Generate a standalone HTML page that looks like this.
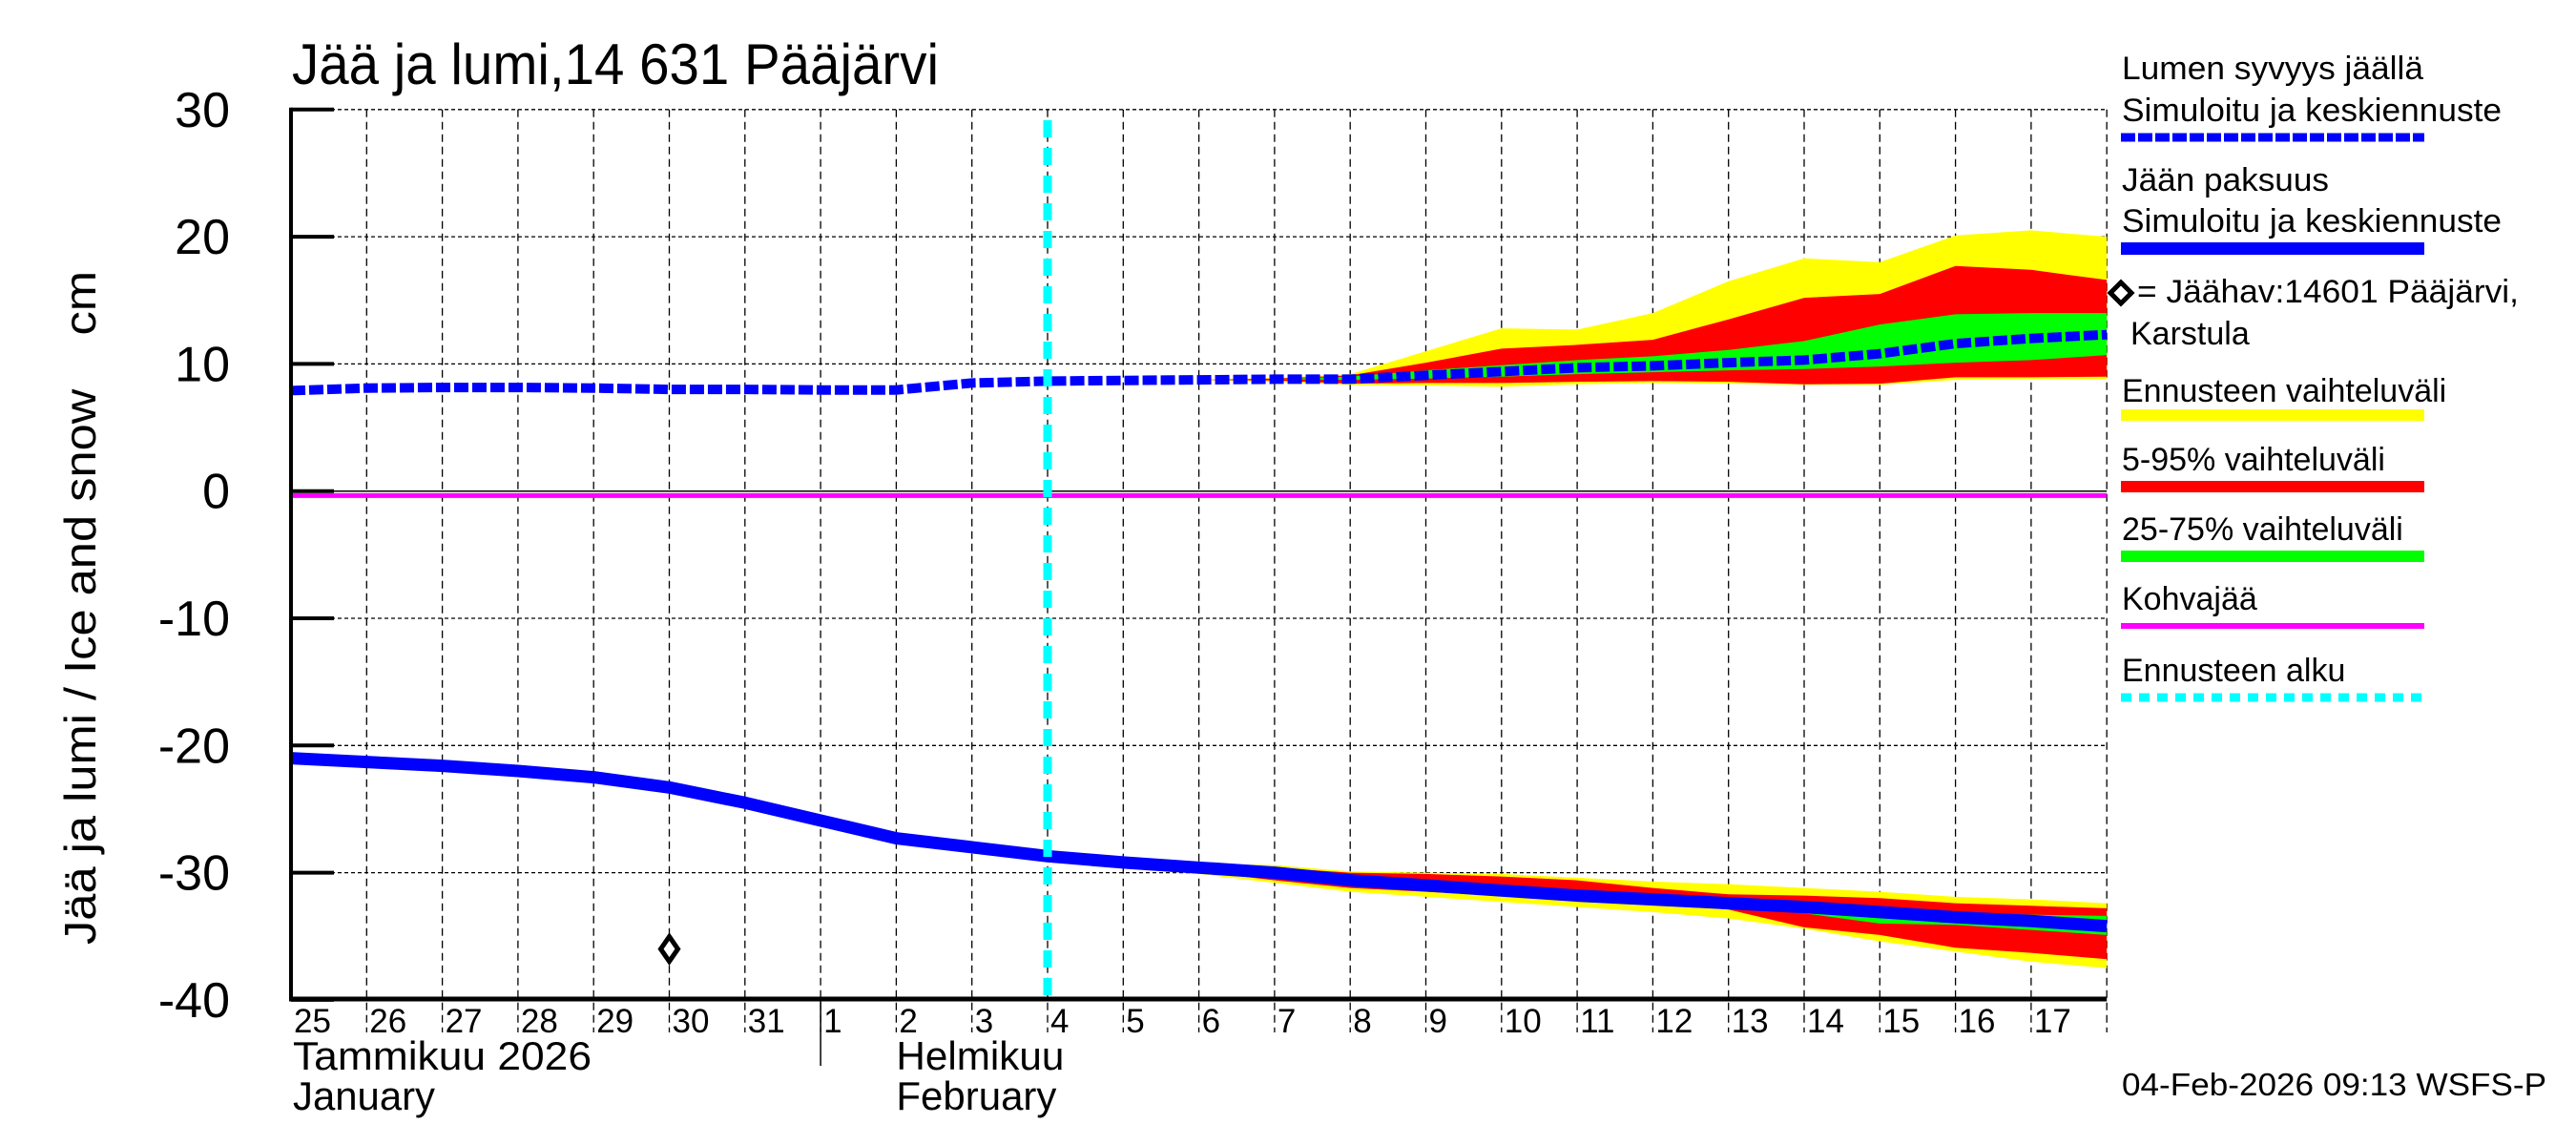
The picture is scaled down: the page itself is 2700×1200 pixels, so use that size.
<!DOCTYPE html>
<html><head><meta charset="utf-8"><style>
html,body{margin:0;padding:0;background:#fff;}
svg{display:block;font-family:"Liberation Sans",sans-serif;}
</style></head><body>
<svg id="chart" width="2700" height="1200" viewBox="0 0 2700 1200" xmlns="http://www.w3.org/2000/svg">
<rect width="2700" height="1200" fill="#fff"/>
<g id="grid"></g>
<g id="bands"></g>
<g id="lines"></g>
<g id="axes"></g>
<text x="306" y="88" font-size="60" textLength="678" lengthAdjust="spacingAndGlyphs">Jää ja lumi,14 631 Pääjärvi</text>
<text transform="translate(100,637) rotate(-90)" text-anchor="middle" font-size="46" textLength="706" lengthAdjust="spacingAndGlyphs">Jää ja lumi / Ice and snow&#160;&#160;&#160;&#160;cm</text>
<g id="legend" font-size="34">
  <text x="2224" y="83" textLength="316" lengthAdjust="spacingAndGlyphs">Lumen syvyys jäällä</text>
  <text x="2224" y="127" textLength="398" lengthAdjust="spacingAndGlyphs">Simuloitu ja keskiennuste</text>
  <line x1="2223" y1="144" x2="2541" y2="144" stroke="#0000ff" stroke-width="9" stroke-dasharray="15,3"/>
  <text x="2224" y="200" textLength="217" lengthAdjust="spacingAndGlyphs">Jään paksuus</text>
  <text x="2224" y="243" textLength="398" lengthAdjust="spacingAndGlyphs">Simuloitu ja keskiennuste</text>
  <rect x="2223" y="254" width="318" height="13" fill="#0000ff"/>
  <path d="M2223 296 L2234 307 L2223 318 L2212 307 Z" fill="#fff" stroke="#000" stroke-width="5"/>
  <text x="2240" y="317" textLength="400" lengthAdjust="spacingAndGlyphs">= Jäähav:14601 Pääjärvi,</text>
  <text x="2233" y="361">Karstula</text>
  <text x="2224" y="421">Ennusteen vaihteluväli</text>
  <rect x="2223" y="429" width="318" height="12" fill="#ffff00"/>
  <text x="2224" y="493">5-95% vaihteluväli</text>
  <rect x="2223" y="504" width="318" height="12" fill="#ff0000"/>
  <text x="2224" y="566">25-75% vaihteluväli</text>
  <rect x="2223" y="577" width="318" height="12" fill="#00ff00"/>
  <text x="2224" y="639">Kohvajää</text>
  <rect x="2223" y="653" width="318" height="6" fill="#ff00ff"/>
  <text x="2224" y="714">Ennusteen alku</text>
  <line x1="2223" y1="731" x2="2541" y2="731" stroke="#00ffff" stroke-width="9" stroke-dasharray="11,8"/>
</g>
<text x="2224" y="1148" font-size="33" textLength="445" lengthAdjust="spacingAndGlyphs">04-Feb-2026 09:13 WSFS-P</text>
</svg>
<script>
const dayLabels = ["25","26","27","28","29","30","31","1","2","3","4","5","6","7","8","9","10","11","12","13","14","15","16","17"];
const yTicks = [30,20,10,0,-10,-20,-30,-40];
const snowDepth = [7.9,8.1,8.15,8.15,8.1,8.0,8.0,7.95,7.95,8.5,8.65,8.7,8.75,8.8,8.8,9.1,9.4,9.7,9.85,10.1,10.3,10.8,11.6,12.0,12.3];
const iceThickness = [-21.0,-21.3,-21.6,-22.0,-22.5,-23.3,-24.5,-25.9,-27.3,-28.0,-28.7,-29.2,-29.6,-30.0,-30.6,-31.0,-31.4,-31.8,-32.1,-32.4,-32.7,-33.1,-33.5,-33.8,-34.2];
const forecastStart = 10;
const snowYellowTop = [8.65,8.7,8.75,8.9,9.2,11.0,12.8,12.7,14.0,16.5,18.3,18.0,20.1,20.5,20.0];
const snowRedTop = [8.65,8.7,8.75,8.85,9.1,10.1,11.2,11.5,11.9,13.5,15.2,15.5,17.7,17.4,16.6];
const snowGreenTop = [8.65,8.7,8.75,8.8,9.0,9.5,9.9,10.3,10.6,11.1,11.8,13.1,13.9,14.0,14.0];
const snowGreenBot = [8.65,8.7,8.75,8.8,8.75,8.85,9.0,9.2,9.35,9.5,9.6,9.8,10.1,10.3,10.7];
const snowRedBot = [8.65,8.7,8.75,8.7,8.45,8.5,8.5,8.6,8.65,8.6,8.4,8.45,8.95,8.95,9.0];
const snowYellowBot = [8.65,8.7,8.75,8.6,8.35,8.3,8.2,8.4,8.5,8.45,8.35,8.35,8.75,8.8,8.8];
const iceYellowTop = [-28.7,-29.1,-29.3,-29.4,-29.9,-30.0,-30.1,-30.4,-30.7,-30.9,-31.2,-31.5,-31.9,-32.1,-32.4];
const iceRedTop = [-28.7,-29.15,-29.45,-29.6,-30.0,-30.1,-30.3,-30.6,-31.2,-31.7,-31.8,-32.0,-32.4,-32.6,-32.8];
const iceGreenTop = [-28.7,-29.2,-29.6,-30.0,-30.4,-30.8,-31.2,-31.6,-31.9,-32.2,-32.5,-32.8,-33.1,-33.3,-33.4];
const iceGreenBot = [-28.7,-29.2,-29.6,-30.0,-30.8,-31.2,-31.6,-32.0,-32.3,-32.6,-33.2,-34.0,-34.1,-34.5,-34.9];
const iceRedBot = [-28.7,-29.3,-29.9,-30.6,-31.2,-31.5,-31.8,-32.1,-32.4,-32.9,-34.3,-34.9,-35.9,-36.3,-36.8];
const iceYellowBot = [-28.7,-29.4,-30.1,-30.8,-31.5,-31.9,-32.3,-32.7,-33.1,-33.6,-34.4,-35.4,-36.2,-37.0,-37.5];
const observationDay = [5];
const observationValue = [-36.0];
const slushValue = [-0.35];

const NS = "http://www.w3.org/2000/svg";
const X0 = 305, DAYW = 79.3, Y0 = 514.7, YS = 13.33;
function xs(i){ return X0 + i*DAYW; }
function ys(v){ return Y0 - v*YS; }
function mk(tag, attrs, parent){
  const e = document.createElementNS(NS, tag);
  for (const k in attrs) e.setAttribute(k, attrs[k]);
  parent.appendChild(e);
  return e;
}
const grid = document.getElementById('grid');
const bands = document.getElementById('bands');
const lines = document.getElementById('lines');
const axes = document.getElementById('axes');
const nDays = dayLabels.length;

yTicks.forEach(v => {
  if (v === 0 || v === -40) return;
  const l = mk('line', {x1:X0, x2:xs(nDays), y1:ys(v), y2:ys(v), stroke:'#000', 'stroke-width':1.3, 'stroke-dasharray':'4,3'}, grid);
  
  
});
for (let i = 1; i <= nDays; i++) {
  const l = mk('line', {x1:xs(i), x2:xs(i), y1:ys(30), y2:1082, stroke:'#000', 'stroke-width':1.3, 'stroke-dasharray':'8,5'}, grid);
  
  
}

function band(top, bot, fill, name, parent){
  let d = '';
  top.forEach((v,k) => { d += (k ? 'L' : 'M') + xs(forecastStart+k).toFixed(1) + ' ' + ys(v).toFixed(1) + ' '; });
  for (let k = bot.length-1; k >= 0; k--) d += 'L' + xs(forecastStart+k).toFixed(1) + ' ' + ys(bot[k]).toFixed(1) + ' ';
  const p = mk('path', {d: d + 'Z', fill: fill}, parent);
  
  
}
band(snowYellowTop, snowYellowBot, '#ffff00', 'snow-range-band', bands);
band(snowRedTop, snowRedBot, '#ff0000', 'snow-5-95-band', bands);
band(snowGreenTop, snowGreenBot, '#00ff00', 'snow-25-75-band', bands);
band(iceYellowTop, iceYellowBot, '#ffff00', 'ice-range-band', bands);
band(iceRedTop, iceRedBot, '#ff0000', 'ice-5-95-band', bands);
band(iceGreenTop, iceGreenBot, '#00ff00', 'ice-25-75-band', bands);

const zl = mk('line', {x1:X0, x2:xs(nDays), y1:ys(0), y2:ys(0), stroke:'#000', 'stroke-width':1.5}, lines);


const sl = mk('line', {x1:X0, x2:xs(nDays), y1:ys(slushValue[0]), y2:ys(slushValue[0]), stroke:'#ff00ff', 'stroke-width':5}, lines);



function pts(arr){ return arr.map((v,i) => xs(i).toFixed(1) + ',' + ys(v).toFixed(1)).join(' '); }
const ice = mk('polyline', {points: pts(iceThickness), fill:'none', stroke:'#0000ff', 'stroke-width':13, 'stroke-linejoin':'round'}, lines);


const snow = mk('polyline', {points: pts(snowDepth), fill:'none', stroke:'#0000ff', 'stroke-width':10, 'stroke-dasharray':'15,4'}, lines);



const fs = mk('line', {x1:xs(forecastStart), x2:xs(forecastStart), y1:126, y2:1047, stroke:'#00ffff', 'stroke-width':9, 'stroke-dasharray':'18,11'}, lines);



observationDay.forEach((d,k) => {
  const cx = xs(d), cy = ys(observationValue[k]);
  const m = mk('path', {d:`M${cx} ${cy-13} L${cx+9} ${cy} L${cx} ${cy+13} L${cx-9} ${cy} Z`, fill:'#fff', stroke:'#000', 'stroke-width':5}, lines);
  
  
});

const la = mk('line', {x1:X0, x2:X0, y1:ys(30)-2, y2:1049, stroke:'#000', 'stroke-width':4}, axes);


const ba = mk('line', {x1:X0-2, x2:xs(nDays), y1:1047, y2:1047, stroke:'#000', 'stroke-width':5}, axes);


yTicks.forEach(v => {
  const t = mk('line', {x1:X0, x2:X0+45, y1:ys(v), y2:ys(v), stroke:'#000', 'stroke-width':4}, axes);
  
  
  const tx = mk('text', {x:241, y:ys(v)+18, 'text-anchor':'end', 'font-size':52}, axes);
  tx.textContent = String(v);
  
  
});
dayLabels.forEach((lab,i) => {
  const tx = mk('text', {x:xs(i)+3, y:1082, 'font-size':35}, axes);
  tx.textContent = lab;
  
  
});
const ms = mk('line', {x1:xs(7), x2:xs(7), y1:1047, y2:1117, stroke:'#000', 'stroke-width':1.5}, axes);


const monthTexts = [[xs(0)+2,1121,'Tammikuu  2026',313],[xs(0)+2,1163,'January',149],[xs(8),1121,'Helmikuu',176],[xs(8),1163,'February',168]];
monthTexts.forEach(m => {
  const tx = mk('text', {x:m[0], y:m[1], 'font-size':42, textLength:m[3], lengthAdjust:'spacingAndGlyphs'}, axes);
  tx.textContent = m[2];
  
  
});
</script>
</body></html>
